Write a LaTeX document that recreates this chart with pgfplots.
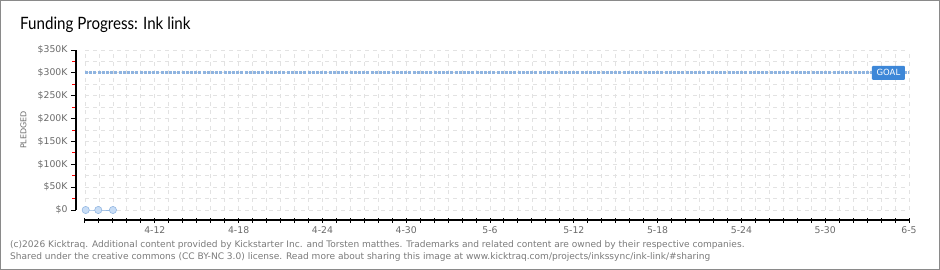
\documentclass[border=0pt]{standalone}
\usepackage{pgfplots}
\pgfplotsset{compat=1.18}
\usepackage{fontspec}
\usepackage{graphicx}
\setmainfont{DejaVu Sans}
\newfontfamily\titlefont{Lato}
\definecolor{gridc}{HTML}{E2E2E2}
\definecolor{tickc}{HTML}{6A6A6A}
\definecolor{goalc}{HTML}{8FB4E0}
\definecolor{goalbox}{HTML}{3D87D8}
\definecolor{ptfill}{HTML}{C8DDF6}
\definecolor{ptdraw}{HTML}{93B7E2}
\definecolor{framec}{HTML}{8A8A8A}
\definecolor{footc}{HTML}{7A7A7A}
\begin{document}
\begin{tikzpicture}
\begin{axis}[
  scale only axis, width=824pt, height=160pt,
  xmin=6, xmax=65, ymin=0, ymax=350000,
  scaled y ticks=false,
  clip=false,
  axis lines=left,
  axis line style={-, black, line width=1.2pt},
  axis x line shift=10pt,
  axis y line shift=9pt,
  xtick={6,...,65},
  xticklabels={,,,,,4-12,,,,,,4-18,,,,,,4-24,,,,,,4-30,,,,,,5-6,,,,,,5-12,,,,,,5-18,,,,,,5-24,,,,,,5-30,,,,,,6-5},
  ytick={0,50000,...,350000},
  yticklabels={\$0,\$50K,\$100K,\$150K,\$200K,\$250K,\$300K,\$350K},
  minor ytick={25000,75000,...,325000},
  xtick align=center, ytick align=outside,
  major tick length=5pt, minor tick length=3.5pt,
  major tick style={black, line width=1pt},
  minor tick style={red, line width=1pt},
  xmajorgrids, ymajorgrids, yminorgrids,
  major grid style={gridc, line width=0.8pt, dash pattern=on 4pt off 4pt},
  minor grid style={gridc, line width=0.8pt, dash pattern=on 4pt off 4pt},
  ticklabel style={font=\fontsize{9.3}{10}\selectfont, text=tickc},
  xticklabel style={yshift=-1pt},
  ylabel={PLEDGED},
  every axis y label/.style={at={(rel axis cs:0,0.5)}, xshift=-61.5pt, rotate=90, anchor=center, font=\fontsize{8}{9}\selectfont, text=tickc},
]
% frame and texts (decoration)
\path ([shift={(-85pt,-60pt)}]rel axis cs:0,0) coordinate (F0);
\path (F0) rectangle ++(940pt,270pt);
\draw[framec,line width=1.5pt] ([shift={(0.75pt,0.75pt)}]F0) rectangle ([shift={(939.25pt,269.25pt)}]F0);
\node[anchor=base west,inner sep=0pt] at ([shift={(20pt,240.5pt)}]F0) {\scalebox{0.89}[1]{\titlefont\fontsize{17}{20}\selectfont Funding Progress: Ink link}};
\node[anchor=base west,inner sep=0pt,text=footc] at ([shift={(10pt,22.5pt)}]F0) {\fontsize{9.05}{10}\selectfont (c)2026 Kicktraq. Additional content provided by Kickstarter Inc. and Torsten matthes. Trademarks and related content are owned by their respective companies.};
\node[anchor=base west,inner sep=0pt,text=footc] at ([shift={(10pt,10.5pt)}]F0) {\fontsize{9.05}{10}\selectfont Shared under the creative commons (CC BY-NC 3.0) license. Read more about sharing this image at www.kicktraq.com/projects/inkssync/ink-link/\#sharing};
\addplot[goalc, line width=3pt, dash pattern=on 3pt off 1.2pt] coordinates {(6,300000) (65,300000)}
  node[pos=0.975, fill=goalbox, text=white, inner sep=2pt, minimum height=14pt, minimum width=33pt, rounded corners=1pt, font=\fontsize{8.5}{9}\selectfont] {GOAL};
\addplot[ptdraw, line width=0.8pt, mark=*, mark size=3.6pt, mark options={fill=ptfill, draw=ptdraw, line width=0.6pt}] coordinates {(6.05,0) (6.95,0) (8,0)};
\end{axis}
\end{tikzpicture}
\end{document}
